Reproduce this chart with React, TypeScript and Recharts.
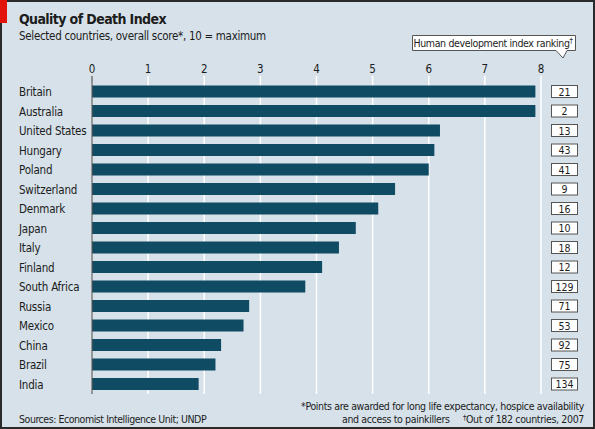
import React from 'react';
import {
  BarChart,
  Bar,
  XAxis,
  YAxis,
  CartesianGrid,
  ReferenceLine,
  LabelList,
} from 'recharts';

const countries = [
  'Britain', 'Australia', 'United States', 'Hungary', 'Poland', 'Switzerland',
  'Denmark', 'Japan', 'Italy', 'Finland', 'South Africa', 'Russia', 'Mexico',
  'China', 'Brazil', 'India',
];
const scores = [7.9, 7.9, 6.2, 6.1, 6.0, 5.4, 5.1, 4.7, 4.4, 4.1, 3.8, 2.8, 2.7, 2.3, 2.2, 1.9];
const hdiRanks = [21, 2, 13, 43, 41, 9, 16, 10, 18, 12, 129, 71, 53, 92, 75, 134];
const xTicks = [0, 1, 2, 3, 4, 5, 6, 7, 8];

const FONT = "'Liberation Sans Narrow', 'DejaVu Sans Condensed', Roboto, sans-serif";
const BG = '#d6e1e9';
const BAR = '#0f4b63';
const INK = '#1c1c1c';

const data = countries.map((country, i) => ({
  country,
  score: scores[i],
  hdi: hdiRanks[i],
}));

const XTick = (props: any) => {
  const { x, payload } = props;
  const isZero = payload.value === 0;
  return (
    <g>
      <line x1={x} x2={x} y1={76} y2={82} stroke={isZero ? '#555' : '#fff'} strokeWidth={isZero ? 1.2 : 1.5} />
      <text x={x} y={73} textAnchor="middle" fontSize={11.5} fill={INK} fontFamily={FONT}>
        {payload.value}
      </text>
    </g>
  );
};

const YTick = (props: any) => {
  const { y, payload } = props;
  return (
    <text x={19} y={y} dy={4.5} textAnchor="start" fontSize={11.5} letterSpacing={-0.2} fill={INK} fontFamily={FONT}>
      {payload.value}
    </text>
  );
};

const HdiBox = (props: any) => {
  const { y, height, value } = props;
  const cy = y + height / 2;
  return (
    <g>
      <rect x={551.5} y={cy - 6} width={26} height={12} fill="#fff" stroke="#555" strokeWidth={1} />
      <text x={564.5} y={cy + 4} textAnchor="middle" fontSize={10.5} fill={INK} fontFamily={FONT}>
        {value}
      </text>
    </g>
  );
};

const App: React.FC = () => {
  return (
    <div
      style={{
        position: 'absolute',
        left: 0,
        top: 0,
        width: 595,
        height: 429,
        background: BG,
        fontFamily: FONT,
        overflow: 'hidden',
      }}
    >
      <BarChart
        width={595}
        height={429}
        data={data}
        layout="vertical"
        margin={{ top: 52, right: 54, bottom: 35, left: 8 }}
        barCategoryGap="18%"
      >
        <CartesianGrid horizontal={false} stroke="#fff" strokeWidth={1.5} />
        <XAxis
          type="number"
          orientation="top"
          domain={[0, 8]}
          ticks={xTicks}
          height={30}
          axisLine={false}
          tickLine={false}
          tick={<XTick />}
          interval={0}
        />
        <YAxis
          type="category"
          dataKey="country"
          width={84}
          axisLine={false}
          tickLine={false}
          tick={<YTick />}
          interval={0}
        />
        <Bar dataKey="score" fill={BAR} isAnimationActive={false}>
          <LabelList dataKey="hdi" content={<HdiBox />} />
        </Bar>
        <ReferenceLine x={0} stroke="#555" strokeWidth={1.2} />
      </BarChart>

      <svg
        width={595}
        height={429}
        style={{ position: 'absolute', left: 0, top: 0, pointerEvents: 'none' }}
      >
        <rect x={1} y={1} width={593} height={427} fill="none" stroke="#2a2a2a" strokeWidth={2} />
        <rect x={0} y={0} width={7} height={23} fill="#e3120b" />
        <text x={19} y={24} fontSize={14} fontWeight="bold" letterSpacing={-0.6} fill={INK} fontFamily={FONT}>
          Quality of Death Index
        </text>
        <text x={19} y={40} fontSize={11.5} letterSpacing={-0.3} fill={INK} fontFamily={FONT}>
          Selected countries, overall score*, 10 = maximum
        </text>

        <path
          d="M412.5,35.5 H575.5 V50.5 H567 L563,58 L556,50.5 H412.5 Z"
          fill="#fff"
          stroke="#555"
          strokeWidth={1}
        />
        <text x={493} y={47} textAnchor="middle" fontSize={10.5} letterSpacing={-0.35} fill={INK} fontFamily={FONT}>
          Human development index ranking
          <tspan dy={-4} fontSize={7.5}>†</tspan>
        </text>

        <text x={584} y={410} textAnchor="end" fontSize={10.5} letterSpacing={-0.35} fill={INK} fontFamily={FONT}>
          *Points are awarded for long life expectancy, hospice availability
        </text>
        <text x={584} y={423} textAnchor="end" fontSize={10.5} letterSpacing={-0.35} fill={INK} fontFamily={FONT}>
          and access to painkillers{'\u00a0\u00a0\u00a0\u00a0\u00a0'}
          <tspan fontSize={7.5} dy={-3}>†</tspan>
          <tspan dy={3}>Out of 182 countries, 2007</tspan>
        </text>
        <text x={19} y={423} fontSize={10.5} letterSpacing={-0.45} fill={INK} fontFamily={FONT}>
          Sources: Economist Intelligence Unit; UNDP
        </text>
      </svg>
    </div>
  );
};

export default App;
